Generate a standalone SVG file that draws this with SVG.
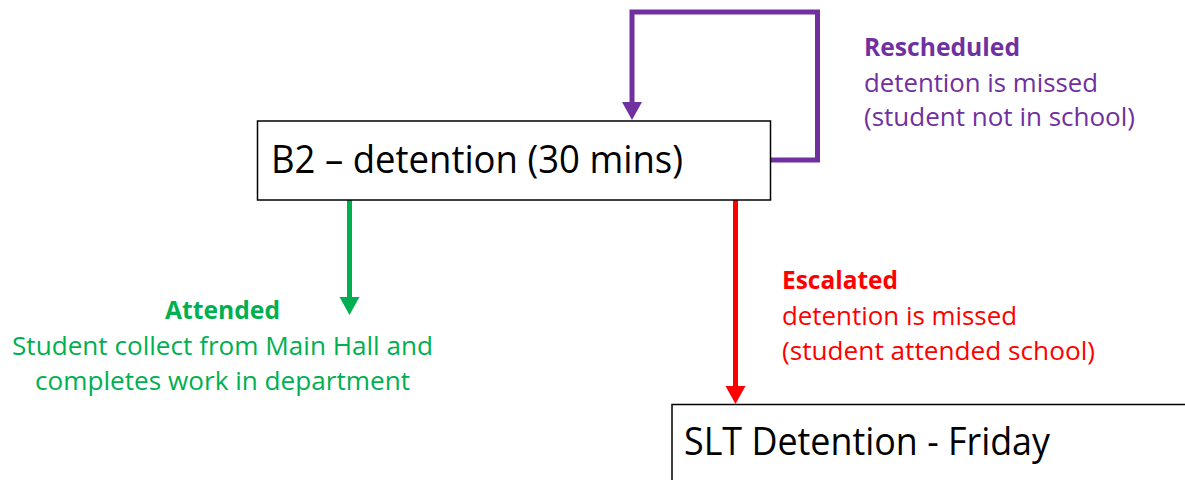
<svg xmlns="http://www.w3.org/2000/svg" width="1185" height="480" viewBox="0 0 1185 480">
  <style>
    .box { fill: #ffffff; stroke: #000000; stroke-width: 1.5; }
    .boxtext { font-family: "Open Sans", "Liberation Sans", sans-serif; font-size: 38px; fill: #000000; }
    .lbl { font-family: "Open Sans", "Liberation Sans", sans-serif; font-size: 25px; }
    .b { font-weight: bold; }
    .purple { fill: #7030A0; }
    .green { fill: #00B050; }
    .red { fill: #FF0000; }
    .conn { fill: none; stroke-width: 5; stroke-linejoin: miter; }
  </style>
  <defs>
    <marker id="ah-purple" markerUnits="userSpaceOnUse" markerWidth="19" markerHeight="20" refX="0" refY="10" orient="auto" overflow="visible">
      <path d="M0,0 L18,10 L0,20 z" fill="#7030A0"/>
    </marker>
    <marker id="ah-green" markerUnits="userSpaceOnUse" markerWidth="19" markerHeight="20" refX="0" refY="10" orient="auto" overflow="visible">
      <path d="M0,0 L18,10 L0,20 z" fill="#00B050"/>
    </marker>
    <marker id="ah-red" markerUnits="userSpaceOnUse" markerWidth="19" markerHeight="20" refX="0" refY="10" orient="auto" overflow="visible">
      <path d="M0,0 L18,10 L0,20 z" fill="#FF0000"/>
    </marker>
  </defs>
  <rect width="1185" height="480" fill="#ffffff"/>

  <g id="connectors">
    <path class="conn" stroke="#7030A0" d="M770,160 H817.5 V12 H632 V102" marker-end="url(#ah-purple)"/>
    <path class="conn" stroke="#00B050" d="M349.5,200 V297" marker-end="url(#ah-green)"/>
    <path class="conn" stroke="#FF0000" d="M735.5,200 V386" marker-end="url(#ah-red)"/>
  </g>

  <g id="node-b2">
    <rect class="box" x="257.5" y="121" width="513" height="79"/>
    <text class="boxtext" x="271" y="173" textLength="412" lengthAdjust="spacingAndGlyphs">B2 – detention (30 mins)</text>
  </g>

  <g id="node-slt">
    <rect class="box" x="672" y="404.5" width="520" height="80"/>
    <text class="boxtext" x="684" y="455" textLength="366" lengthAdjust="spacingAndGlyphs">SLT Detention - Friday</text>
  </g>

  <g id="label-rescheduled" class="lbl purple">
    <text class="b" x="864" y="56" textLength="156" lengthAdjust="spacingAndGlyphs">Rescheduled</text>
    <text x="864" y="91.5" textLength="234" lengthAdjust="spacingAndGlyphs">detention is missed</text>
    <text x="864" y="125.5" textLength="271" lengthAdjust="spacingAndGlyphs">(student not in school)</text>
  </g>

  <g id="label-attended" class="lbl green" text-anchor="middle">
    <text class="b" x="222.5" y="318.5" textLength="115" lengthAdjust="spacingAndGlyphs">Attended</text>
    <text x="222.5" y="355" textLength="421" lengthAdjust="spacingAndGlyphs">Student collect from Main Hall and</text>
    <text x="222.5" y="390" textLength="375" lengthAdjust="spacingAndGlyphs">completes work in department</text>
  </g>

  <g id="label-escalated" class="lbl red">
    <text class="b" x="782" y="288.5" textLength="116" lengthAdjust="spacingAndGlyphs">Escalated</text>
    <text x="782" y="325" textLength="235" lengthAdjust="spacingAndGlyphs">detention is missed</text>
    <text x="782" y="360" textLength="313" lengthAdjust="spacingAndGlyphs">(student attended school)</text>
  </g>
</svg>
